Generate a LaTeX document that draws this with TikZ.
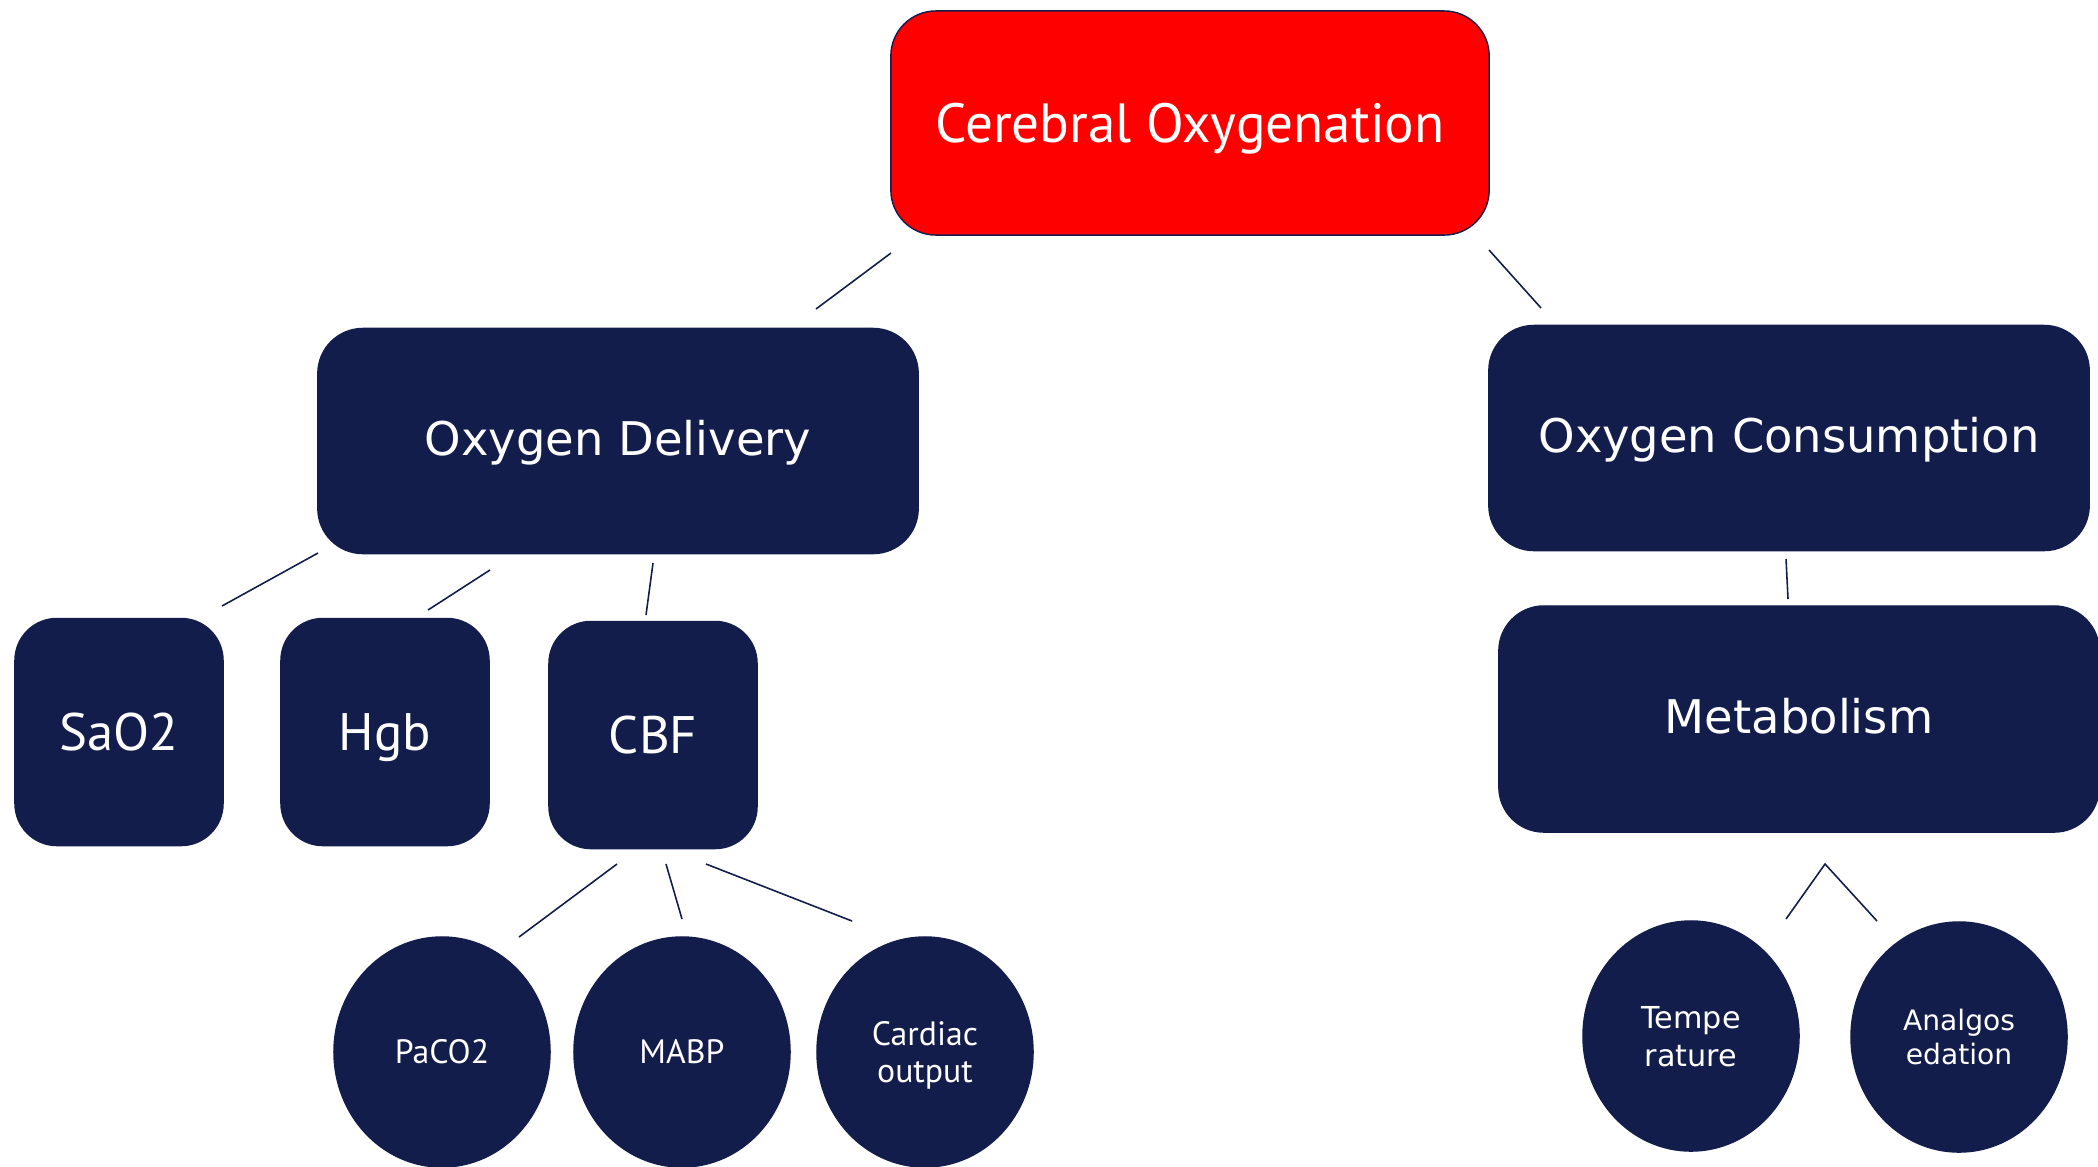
\documentclass[tikz,border=0pt]{standalone}
\usepackage{fontspec}
\usetikzlibrary{shapes.geometric}
\newfontfamily\narrowfont{PT Sans}
\newfontfamily\widefont{DejaVu Sans}
\definecolor{navy}{HTML}{131D4C}
\definecolor{boxred}{HTML}{FF0000}
\tikzset{
  bigbox/.style={rectangle, rounded corners=0.45cm, fill=navy, draw=navy, line width=0.4pt,
    minimum width=6cm, minimum height=2.25cm, inner sep=0pt, text=white, align=center},
  smallbox/.style={rectangle, rounded corners=0.42cm, fill=navy, draw=navy, line width=0.4pt,
    minimum width=2.08cm, minimum height=2.27cm, inner sep=0pt, text=white, align=center},
  oval/.style={ellipse, fill=navy, draw=navy, line width=0.4pt,
    minimum width=2.16cm, minimum height=2.30cm, inner sep=0pt, text=white, align=center},
  link/.style={draw=navy, line width=0.45pt},
  bigtext/.style={font=\widefont\fontsize{13.2pt}{16pt}\selectfont, text height=8.2pt, text depth=0pt},
  nartext/.style={font=\narrowfont\fontsize{15pt}{18pt}\selectfont, text height=10.5pt, text depth=0pt},
  ovaltext/.style={font=\narrowfont\fontsize{9.6pt}{10pt}\selectfont, text height=6.7pt, text depth=0pt},
}
\begin{document}
\begin{tikzpicture}[x=0.01cm,y=-0.01cm]
\useasboundingbox[fill=white] (0,0) rectangle (2098,1166);
% main nodes
\node[bigbox, fill=boxred, minimum width=5.98cm, minimum height=2.24cm,
  font=\narrowfont\fontsize{15.7pt}{18pt}\selectfont, text height=11pt, text depth=0pt] (top) at (1190,123) {Cerebral Oxygenation};
\node[bigbox, bigtext] (od) at (618,441) {Oxygen Delivery};
\node[bigbox, bigtext] (oc) at (1789,438) {Oxygen Consumption};
\node[bigbox, bigtext, minimum height=2.26cm] (met) at (1799,719) {Metabolism};
\node[smallbox, nartext] (sao) at (119,732) {SaO2};
\node[smallbox, nartext] (hgb) at (385,732) {Hgb};
\node[smallbox, nartext] (cbf) at (653,735) {CBF};
\node[oval, ovaltext] (pac) at (442,1052) {PaCO2};
\node[oval, ovaltext] (mab) at (682,1052) {MABP};
\node[oval, font=\narrowfont\fontsize{9.6pt}{10.3pt}\selectfont, text depth=0pt] (car) at (925,1052) {Cardiac\\output};
\node[oval, font=\widefont\fontsize{8.6pt}{10.8pt}\selectfont, text depth=0pt] (tmp) at (1691,1036) {Tempe\\rature};
\node[oval, font=\widefont\fontsize{8pt}{9.6pt}\selectfont, text depth=0pt] (ana) at (1959,1037) {Analgos\\edation};
% connector end points
\coordinate (a1) at (891,253); \coordinate (a2) at (816,309);
\coordinate (b1) at (1489,250); \coordinate (b2) at (1541,308);
\coordinate (c1) at (318,553); \coordinate (c2) at (222,606);
\coordinate (d1) at (490,570); \coordinate (d2) at (428,610);
\coordinate (e1) at (653,563); \coordinate (e2) at (646,615);
\coordinate (f1) at (1786,559); \coordinate (f2) at (1788,599);
\coordinate (g1) at (617,864); \coordinate (g2) at (519,937);
\coordinate (h1) at (666,864); \coordinate (h2) at (682,919);
\coordinate (i1) at (706,864); \coordinate (i2) at (852,921);
\coordinate (j1) at (1825,864); \coordinate (j2) at (1786,919);
\coordinate (k2) at (1877,921);
% connectors
\draw[link] (a1) -- (a2);
\draw[link] (b1) -- (b2);
\draw[link] (c1) -- (c2);
\draw[link] (d1) -- (d2);
\draw[link] (e1) -- (e2);
\draw[link] (f1) -- (f2);
\draw[link] (g1) -- (g2);
\draw[link] (h1) -- (h2);
\draw[link] (i1) -- (i2);
\draw[link] (j2) -- (j1) -- (k2);
\end{tikzpicture}
\end{document}
